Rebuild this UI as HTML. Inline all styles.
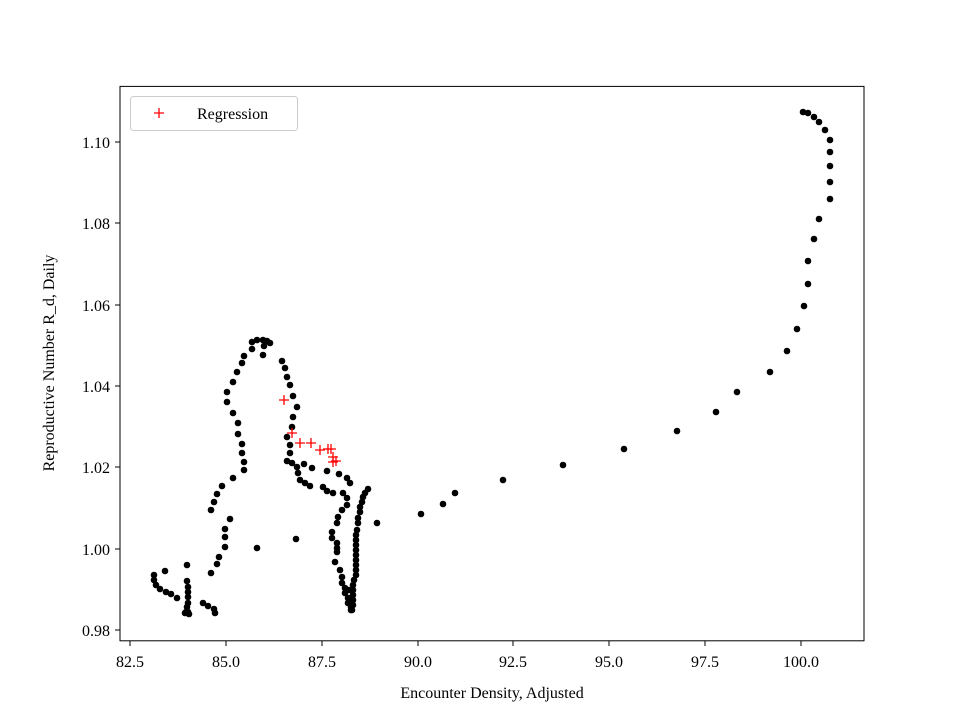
<!DOCTYPE html>
<html><head><meta charset="utf-8"><style>body{margin:0;background:#fff}svg{display:block}text{font-family:"Liberation Serif",serif;fill:#000}</style></head>
<body>
<svg width="960" height="720" viewBox="0 0 960 720" xmlns="http://www.w3.org/2000/svg">
<rect width="960" height="720" fill="#fff"/>
<defs><circle id="d" r="3.3" fill="#000"/><path id="c" d="M-5 0h10M0 -5v10" stroke="#f00" stroke-width="1.3"/></defs>
<g>
<use href="#d" x="154" y="575"/><use href="#d" x="154" y="580"/><use href="#d" x="156" y="585"/><use href="#d" x="160" y="589"/><use href="#d" x="166" y="592"/><use href="#d" x="171" y="594"/><use href="#d" x="177" y="598"/><use href="#d" x="165" y="571"/>
<use href="#d" x="187" y="565"/><use href="#d" x="187" y="581"/><use href="#d" x="188" y="587"/><use href="#d" x="188" y="592"/><use href="#d" x="188" y="597"/><use href="#d" x="188" y="603"/><use href="#d" x="187" y="607"/><use href="#d" x="185" y="613"/><use href="#d" x="189" y="614"/><use href="#d" x="188" y="612"/><use href="#d" x="186" y="612"/>
<use href="#d" x="203" y="603"/><use href="#d" x="208" y="606"/><use href="#d" x="214" y="609"/><use href="#d" x="215" y="613"/>
<use href="#d" x="211" y="573"/><use href="#d" x="217" y="564"/><use href="#d" x="219" y="557"/><use href="#d" x="225" y="547"/><use href="#d" x="225" y="537"/><use href="#d" x="225" y="529"/><use href="#d" x="230" y="519"/><use href="#d" x="211" y="510"/><use href="#d" x="214" y="502"/><use href="#d" x="217" y="494"/><use href="#d" x="222" y="486"/><use href="#d" x="233" y="478"/>
<use href="#d" x="244" y="470"/><use href="#d" x="244" y="462"/><use href="#d" x="242" y="453"/><use href="#d" x="242" y="444"/><use href="#d" x="238" y="434"/><use href="#d" x="238" y="423"/><use href="#d" x="233" y="413"/><use href="#d" x="227" y="402"/><use href="#d" x="227" y="392"/><use href="#d" x="233" y="382"/><use href="#d" x="237" y="372"/><use href="#d" x="242" y="363"/><use href="#d" x="244" y="356"/><use href="#d" x="252" y="349"/><use href="#d" x="252" y="342"/><use href="#d" x="257" y="340"/><use href="#d" x="263" y="340"/><use href="#d" x="270" y="343"/><use href="#d" x="264" y="346"/><use href="#d" x="263" y="355"/><use href="#d" x="267" y="341"/>
<use href="#d" x="282" y="361"/><use href="#d" x="285" y="368"/><use href="#d" x="287" y="377"/><use href="#d" x="290" y="385"/><use href="#d" x="293" y="396"/><use href="#d" x="297" y="407"/><use href="#d" x="293" y="417"/><use href="#d" x="292" y="427"/><use href="#d" x="287" y="437"/><use href="#d" x="290" y="445"/><use href="#d" x="290" y="453"/><use href="#d" x="287" y="461"/><use href="#d" x="292" y="463"/><use href="#d" x="297" y="467"/><use href="#d" x="304" y="464"/><use href="#d" x="312" y="468"/><use href="#d" x="298" y="473"/><use href="#d" x="300" y="480"/><use href="#d" x="305" y="483"/><use href="#d" x="310" y="486"/><use href="#d" x="323" y="487"/><use href="#d" x="327" y="491"/><use href="#d" x="333" y="493"/><use href="#d" x="343" y="493"/><use href="#d" x="327" y="471"/><use href="#d" x="339" y="474"/><use href="#d" x="347" y="478"/><use href="#d" x="350" y="483"/>
<use href="#d" x="347" y="498"/><use href="#d" x="347" y="505"/><use href="#d" x="342" y="510"/><use href="#d" x="338" y="517"/><use href="#d" x="337" y="523"/><use href="#d" x="332" y="532"/><use href="#d" x="332" y="538"/><use href="#d" x="337" y="543"/><use href="#d" x="337" y="548"/><use href="#d" x="337" y="552"/><use href="#d" x="335" y="562"/><use href="#d" x="340" y="570"/><use href="#d" x="342" y="577"/><use href="#d" x="342" y="583"/><use href="#d" x="345" y="588"/><use href="#d" x="345" y="593"/><use href="#d" x="348" y="598"/><use href="#d" x="348" y="603"/><use href="#d" x="351" y="607"/><use href="#d" x="351" y="610"/>
<use href="#d" x="368" y="489"/><use href="#d" x="365" y="493"/><use href="#d" x="363" y="497"/><use href="#d" x="362" y="502"/><use href="#d" x="360" y="507"/><use href="#d" x="360" y="512"/><use href="#d" x="358" y="518"/><use href="#d" x="358" y="523"/><use href="#d" x="357" y="530"/><use href="#d" x="356" y="535"/><use href="#d" x="356" y="540"/><use href="#d" x="356" y="545"/><use href="#d" x="356" y="550"/><use href="#d" x="356" y="555"/><use href="#d" x="356" y="560"/><use href="#d" x="356" y="565"/><use href="#d" x="356" y="570"/><use href="#d" x="356" y="575"/><use href="#d" x="354" y="580"/><use href="#d" x="353" y="585"/><use href="#d" x="353" y="590"/><use href="#d" x="353" y="595"/><use href="#d" x="353" y="600"/><use href="#d" x="353" y="605"/><use href="#d" x="352" y="610"/><use href="#d" x="350" y="598"/><use href="#d" x="349" y="590"/>
<use href="#d" x="377" y="523"/><use href="#d" x="296" y="539"/><use href="#d" x="257" y="548"/>
<use href="#d" x="421" y="514"/><use href="#d" x="443" y="504"/><use href="#d" x="455" y="493"/><use href="#d" x="503" y="480"/><use href="#d" x="563" y="465"/><use href="#d" x="624" y="449"/><use href="#d" x="677" y="431"/><use href="#d" x="716" y="412"/><use href="#d" x="737" y="392"/><use href="#d" x="770" y="372"/><use href="#d" x="787" y="351"/><use href="#d" x="797" y="329"/><use href="#d" x="804" y="306"/><use href="#d" x="808" y="284"/><use href="#d" x="808" y="261"/><use href="#d" x="814" y="239"/><use href="#d" x="819" y="219"/><use href="#d" x="830" y="199"/><use href="#d" x="830" y="182"/><use href="#d" x="830" y="166"/><use href="#d" x="830" y="152"/><use href="#d" x="830" y="140"/><use href="#d" x="825" y="130"/><use href="#d" x="819" y="122"/><use href="#d" x="814" y="117"/><use href="#d" x="808" y="113"/><use href="#d" x="803" y="112"/>
</g>
<g>
<use href="#c" x="284" y="400"/><use href="#c" x="292" y="433"/><use href="#c" x="300" y="443"/><use href="#c" x="311" y="443"/><use href="#c" x="320" y="450"/><use href="#c" x="328" y="449"/><use href="#c" x="331" y="449"/><use href="#c" x="333" y="457"/><use href="#c" x="336" y="461"/><use href="#c" x="333" y="462"/>
</g>
<rect x="120" y="86.4" width="744" height="554.4" fill="none" stroke="#000" stroke-width="1"/>
<g stroke="#000" stroke-width="1">
<path d="M130 641v5M226 641v5M322 641v5M418 641v5M513 641v5M609 641v5M705 641v5M801 641v5"/>
<path d="M120 630h-5M120 549h-5M120 467h-5M120 386h-5M120 305h-5M120 223h-5M120 142h-5"/>
</g>
<g font-size="16" text-anchor="middle">
<text x="130" y="667">82.5</text><text x="226" y="667">85.0</text><text x="322" y="667">87.5</text><text x="418" y="667">90.0</text><text x="513" y="667">92.5</text><text x="609" y="667">95.0</text><text x="705" y="667">97.5</text><text x="801" y="667">100.0</text>
<text x="492" y="698">Encounter Density, Adjusted</text>
</g>
<g font-size="16" text-anchor="end">
<text x="110" y="636">0.98</text><text x="110" y="555">1.00</text><text x="110" y="473">1.02</text><text x="110" y="392">1.04</text><text x="110" y="311">1.06</text><text x="110" y="229">1.08</text><text x="110" y="148">1.10</text>
</g>
<text x="54" y="363" font-size="16" text-anchor="middle" transform="rotate(-90 54 363)">Reproductive Number R_d, Daily</text>
<rect x="130.5" y="96.5" width="167" height="34" rx="3" fill="#fff" stroke="#ccc"/>
<use href="#c" x="159" y="113"/>
<text x="197" y="119" font-size="16">Regression</text>
</svg>
</body></html>
